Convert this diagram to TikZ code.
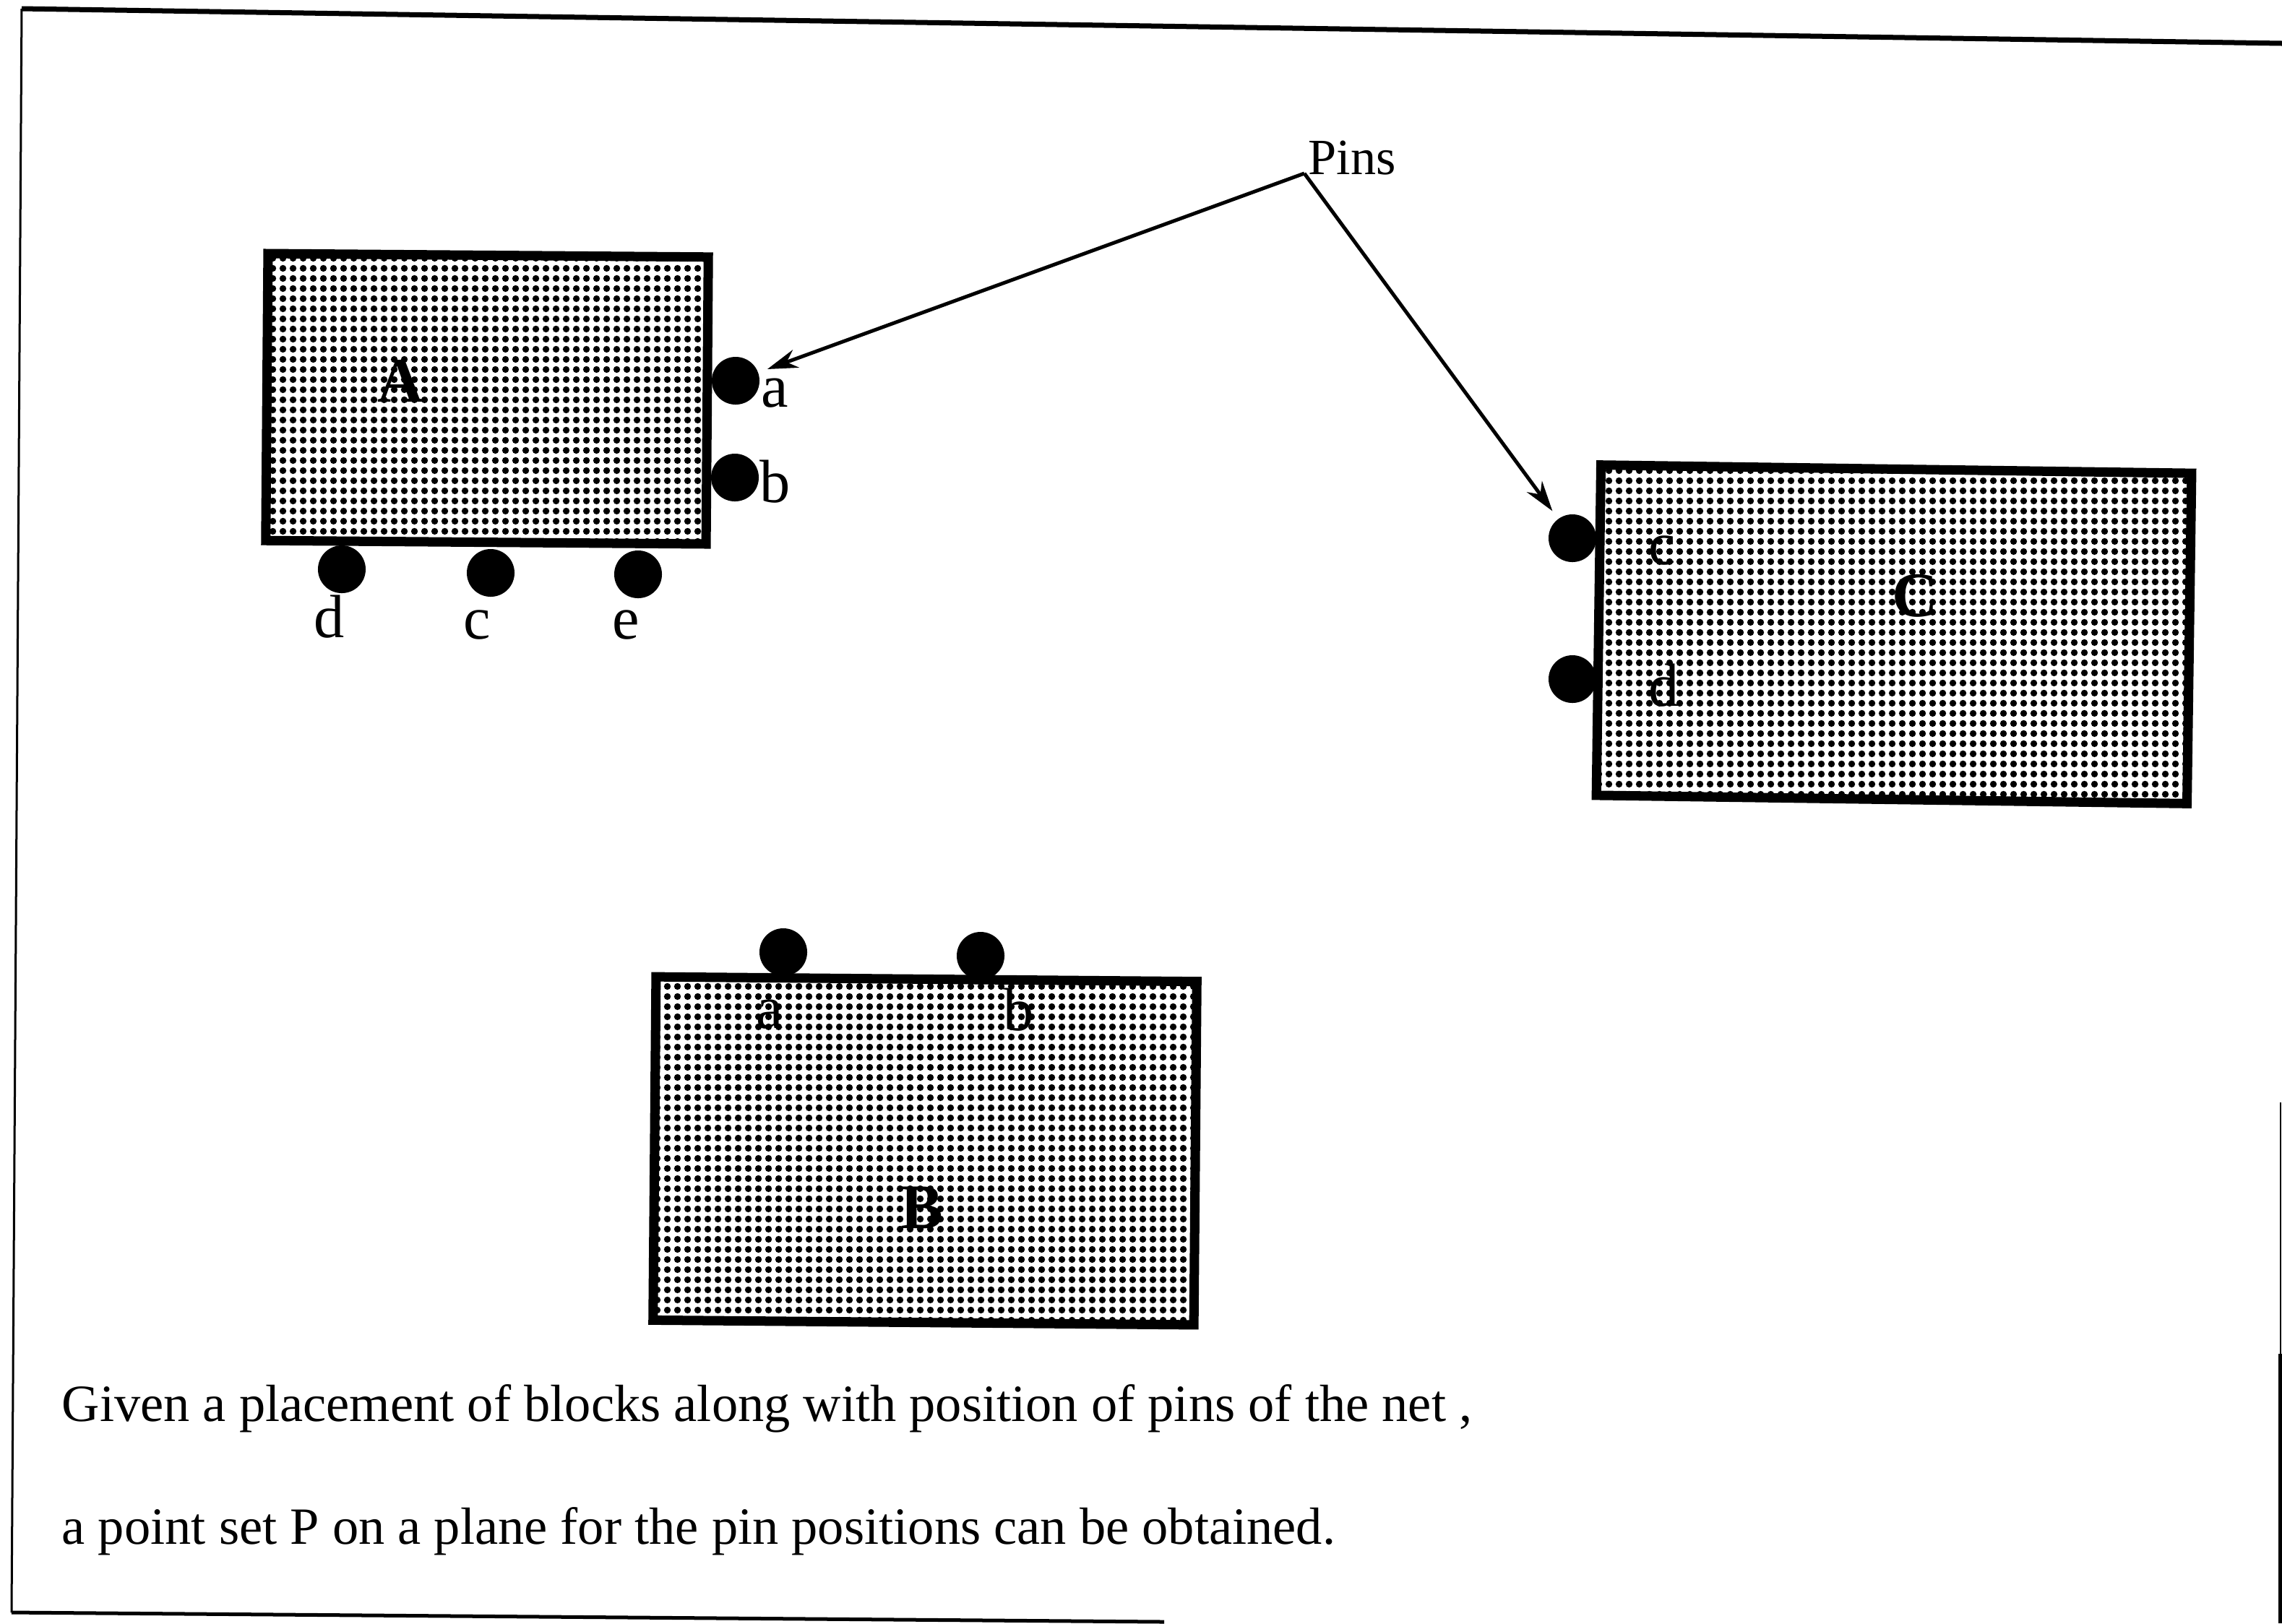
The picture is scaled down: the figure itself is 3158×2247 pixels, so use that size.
\documentclass[tikz,border=0pt]{standalone}
\usepackage{fontspec}
\setmainfont{Liberation Serif}
\usetikzlibrary{patterns.meta,arrows.meta}
\begin{document}
\begin{tikzpicture}[x=0.01cm,y=-0.01cm,
  block/.style={draw=black, line width=0.13cm, inner sep=0pt,
    preaction={fill=white},
    pattern={Dots[distance=0.14cm,radius=0.05cm]}, pattern color=black},
  pinpt/.style={circle, fill=black, minimum size=0.66cm, inner sep=0pt},
  pinlab/.style={anchor=base, inner sep=0pt, font=\fontsize{24}{28}\selectfont},
  blocklab/.style={anchor=base, inner sep=0pt, font=\fontsize{25}{30}\selectfont\bfseries},
  txt/.style={anchor=base west, inner sep=0pt, font=\fontsize{20.6}{24}\selectfont},
  ptr/.style={line width=0.05cm, -{Stealth[length=0.42cm,width=0.26cm]}, shorten >=0.13cm}
]
\useasboundingbox (0,0) rectangle (3158,2247);

% frame
\draw[line width=0.07cm] (30,12) -- (3158,60);
\draw[line width=0.03cm] (30,12) -- (16,2232);
\draw[line width=0.05cm] (16,2232) -- (1611,2245);
\draw[line width=0.02cm] (3156,1526) -- (3156,1874);
\draw[line width=0.05cm] (3155,1874) -- (3155,2247);

% blocks
\node[block, minimum width=6.09cm, minimum height=3.97cm, rotate=-0.45] (A) at (674,552) {};
\node[block, minimum width=7.48cm, minimum height=4.75cm, rotate=-0.5] (B) at (1280,1593) {};
\node[block, minimum width=8.17cm, minimum height=4.57cm, rotate=-0.8] (C) at (2621,878) {};

% block labels
\node[blocklab] (Alab) at (554,556) {A};
\node[blocklab] (Blab) at (1276,1700) {B};
\node[blocklab] (Clab) at (2650,853) {C};

% pins of A
\node[pinpt] (Aa) at (1018,527) {};
\node[pinpt] (Ab) at (1017,661) {};
\node[pinpt] (Ad) at (473,788) {};
\node[pinpt] (Ac) at (679,793) {};
\node[pinpt] (Ae) at (883,795) {};
\node[pinlab] (Aalab) at (1072,563) {a};
\node[pinlab] (Ablab) at (1073,695) {b};
\node[pinlab] (Adlab) at (456,882) {d};
\node[pinlab] (Aclab) at (660,884) {c};
\node[pinlab] (Aelab) at (866,884) {e};

% pins of B
\node[pinpt] (Ba) at (1084,1318) {};
\node[pinpt] (Bb) at (1357,1323) {};
\node[pinlab] (Balab) at (1065,1423) {a};
\node[pinlab] (Bblab) at (1410,1426) {b};

% pins of C
\node[pinpt] (Cc) at (2176,745) {};
\node[pinpt] (Cd) at (2176,940) {};
\node[pinlab] (Cclab) at (2300,781) {c};
\node[pinlab] (Cdlab) at (2303,977) {d};

% Pins label and arrows
\coordinate (src) at (1805,240);
\node[anchor=base west, inner sep=0pt, font=\fontsize{20}{24}\selectfont] (pins) at (1810,241) {Pins};
\draw[ptr] (src) -- (Aa);
\draw[ptr] (src) -- (Cc);

% caption text
\node[txt] (t1) at (85,1967) {Given a placement of blocks along with position of pins of the net ,};
\node[txt] (t2) at (85,2137) {a point set P on a plane for the pin positions can be obtained.};
\end{tikzpicture}
\end{document}
